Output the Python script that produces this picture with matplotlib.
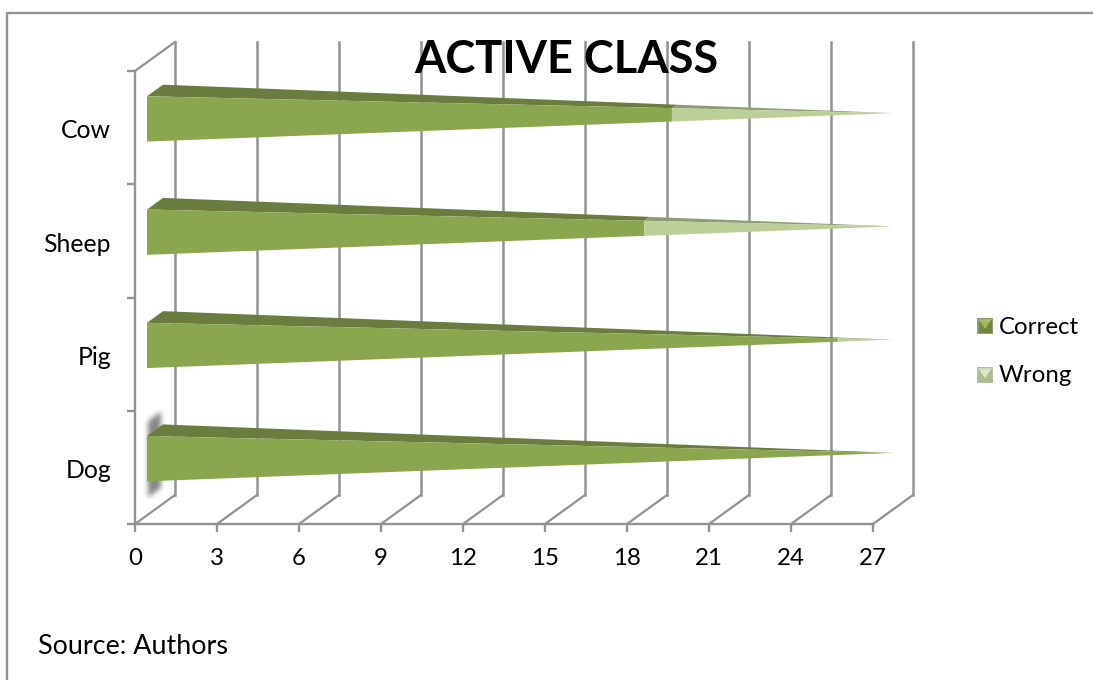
import matplotlib
matplotlib.use('Agg')
import matplotlib.pyplot as plt
import numpy as np
from matplotlib.lines import Line2D
from matplotlib.patches import Polygon

W, H = 1093, 680
plt.rcParams['font.family'] = ['Lato', 'DejaVu Sans']

categories = ['Dog', 'Pig', 'Sheep', 'Cow']
correct = [27, 25, 18, 19]
wrong = [0, 2, 9, 8]
xticks = [0, 3, 6, 9, 12, 15, 18, 21, 24, 27]

GRID = '#929292'
FRONT = ['#8aa750', '#bccf98']
TOP = ['#6b7c3f', '#8f9c72']

# 3d look: how far the back wall sits from the front, in data units
PX_X = 738 / 27
PX_Y = 453 / 4
DEPTH_X = 40 / PX_X
DEPTH_Y = 29 / PX_Y
BAR_HALF = 0.2
D_FRONT, D_BACK = 0.3, 0.7
D_MID = (D_FRONT + D_BACK) / 2


def px(x, y):
    return x / W, 1 - y / H


fig = plt.figure(figsize=(W / 100, H / 100), dpi=100)
# page frame: only the top and left edges are on the page
fig.add_artist(Line2D([px(6.5, 0)[0], px(6.5, 0)[0], 1], [0, px(0, 12.5)[1], px(0, 12.5)[1]],
                      transform=fig.transFigure, color=GRID, lw=1.7))

ax = fig.add_axes([135 / W, 1 - 524 / H, 738 / W, 453 / H])
ax.patch.set_alpha(0)
for s in ['top', 'right']:
    ax.spines[s].set_visible(False)
for s in ['left', 'bottom']:
    ax.spines[s].set_color(GRID)
    ax.spines[s].set_linewidth(1.7)

# back wall verticals, floor lines and the left wall top edge
for v in xticks:
    ax.plot([v, v + DEPTH_X], [0, DEPTH_Y], color=GRID, lw=1.6, clip_on=False, zorder=1)
    ax.plot([v + DEPTH_X] * 2, [DEPTH_Y, 4 + DEPTH_Y], color=GRID, lw=1.8, clip_on=False, zorder=1)
ax.plot([0, DEPTH_X], [4, 4 + DEPTH_Y], color=GRID, lw=1.6, clip_on=False, zorder=1)

# soft shadow behind the Dog bar: a slanted band, box-blurred three times
sx, sy = np.meshgrid(np.arange(40.0), np.arange(110.0))
band = ((sx > 12) & (sx < 26) & (sy > 21 - 0.75 * (sx - 13)) & (sy < 97 - 0.75 * (sx - 13))).astype(float)
kernel = np.ones(5) / 5
for _ in range(3):
    band = np.apply_along_axis(np.convolve, 0, band, kernel, mode='same')
    band = np.apply_along_axis(np.convolve, 1, band, kernel, mode='same')
rgba = np.zeros(band.shape + (4,))
rgba[..., :3] = 0.33
rgba[..., 3] = band * 0.7
ax.imshow(rgba, extent=(0, 40 / PX_X, (524 - 510) / PX_Y, (524 - 400) / PX_Y),
          aspect='auto', interpolation='bilinear', zorder=2, clip_on=False)

ax.set_xlim(0, 27)
ax.set_ylim(0, 4)
ax.set_xticks(xticks)
ax.set_yticks(range(5))
ax.set_yticklabels([])
ax.set_yticks([i + 0.49 for i in range(4)], minor=True)
ax.set_yticklabels(categories, minor=True)
ax.tick_params(axis='both', which='major', length=5.8, width=1.7, color=GRID)
ax.tick_params(axis='y', which='minor', length=0, pad=17.2, labelsize=17.8)
ax.tick_params(axis='x', labelsize=17.3, pad=11.5)


def pyramid_slice(c, v0, v1, total, face):
    # one stretch of a pyramid bar, tapering to a point at the total
    r0, r1 = 1 - v0 / total, 1 - v1 / total

    def edge(v, r, side, d):
        vx = v + d * DEPTH_X * r + D_MID * DEPTH_X * (1 - r)
        vy = c + side * BAR_HALF * r + DEPTH_Y * (d * r + D_MID * (1 - r))
        return vx, vy

    if face == 'front':
        return [edge(v0, r0, -1, D_FRONT), edge(v1, r1, -1, D_FRONT),
                edge(v1, r1, 1, D_FRONT), edge(v0, r0, 1, D_FRONT)]
    return [edge(v0, r0, 1, D_FRONT), edge(v1, r1, 1, D_FRONT),
            edge(v1, r1, 1, D_BACK), edge(v0, r0, 1, D_BACK)]


for i in range(4):
    c = i + 0.5
    total = correct[i] + wrong[i]
    spans = [(0, correct[i], 0), (correct[i], total, 1)]
    for v0, v1, k in spans:
        if v1 <= v0:
            continue
        ax.add_patch(Polygon(pyramid_slice(c, v0, v1, total, 'top'), closed=True,
                             fc=TOP[k], ec='none', clip_on=False, zorder=3))
        ax.add_patch(Polygon(pyramid_slice(c, v0, v1, total, 'front'), closed=True,
                             fc=FRONT[k], ec='none', clip_on=False, zorder=4))

# legend swatches: dim square with a bright wedge, lit along the top
legend_items = [('Correct', 326, ['#8f9e6c', '#71863f', '#9dbb55', '#a9bf7c']),
                ('Wrong', 375, ['#b4bea2', '#aebd90', '#dfe9c8', '#d3ddbf'])]
for name, y, cols in legend_items:
    x0, x1, y0, y1 = 977, 993, y - 8, y + 8
    mx = (x0 + x1) / 2
    shapes = [([(x0, y0), (x1, y0), (x1, y1), (x0, y1)], cols[0]),
              ([(x0 + 1.5, y0 + 1.5), (x1 - 1.5, y0 + 1.5), (x1 - 1.5, y1 - 1.5), (x0 + 1.5, y1 - 1.5)], cols[1]),
              ([(x0 + 1.5, y0 + 1.5), (x1 - 1.5, y0 + 1.5), (mx, y + 3)], cols[2]),
              ([(x0 + 1.5, y0 + 1.5), (x1 - 1.5, y0 + 1.5), (x1 - 3, y0 + 3), (x0 + 3, y0 + 3)], cols[3])]
    for pts, col in shapes:
        fig.add_artist(Polygon([px(*p) for p in pts], closed=True, fc=col, ec='none',
                               transform=fig.transFigure))
    fig.text(*px(999, y + 1), name, fontsize=17.3, va='center', ha='left', color='black')

fig.text(*px(566.5, 60), 'ACTIVE CLASS', fontsize=32.5, fontweight='bold', ha='center', va='center', color='black')
fig.text(*px(38, 647), 'Source: Authors', fontsize=19.4, ha='left', va='center', color='black')

fig.savefig('out.png', dpi=100)
